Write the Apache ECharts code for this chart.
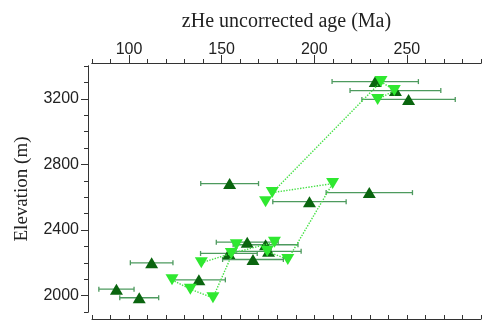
<!DOCTYPE html>
<html>
<head>
<meta charset="utf-8">
<script src="https://cdn.jsdelivr.net/npm/echarts@6/dist/echarts.min.js"></script>
<style>
  html, body { margin: 0; padding: 0; background: #fff; }
  #chart { width: 487px; height: 322px; }
</style>
</head>
<body>
<div id="chart"></div>
<script>
// sample elevations (m), shared by both age sets
const elevation = [3305, 3250, 3196, 2683, 2628, 2573, 2326, 2310, 2270, 2257, 2220, 2200, 2096, 2039, 1987]
// zHe uncorrected ages (Ma) and 1 sigma errors
const uncorrectedAge = [232.9, 243.8, 250.9, 154.3, 229.7, 197.4, 163.8, 173.7, 175.3, 153.9, 166.9, 112.2, 137.7, 93.2, 105.5]
const ageError = [23.3, 24.5, 25.2, 15.6, 23.3, 19.8, 16.7, 17.5, 17.6, 15.3, 16.4, 11.5, 14.3, 9.5, 10.5]
// second age set (light green, down triangles)
const otherAge = [236.0, 243.2, 234.2, 209.9, 177.3, 173.7, 178.5, 157.9, 174.6, 155.2, 185.7, 139.0, 123.2, 133.1, 145.3]
// which samples the dotted lines join, in order
const linePaths = [
	[11, 9, 6, 8, 10, 3, 4, 0, 1, 2],
	[12, 13, 14, 7]
]
const xTicks = [100, 150, 200, 250]
const yTicks = [2000, 2400, 2800, 3200]

const darkGreen = '#0a650f'
const barGreen = '#4d9a5e'
const lightGreen = '#2fe830'
const axisColor = '#333'

const myChart = echarts.init(document.getElementById('chart'))

const darkData = uncorrectedAge.map((a, i) => [a, elevation[i]])
const errData = uncorrectedAge.map((a, i) => [a, elevation[i], ageError[i]])
const lightData = otherAge.map((a, i) => [a, elevation[i]])

// paths joined into one line series, broken by nulls
const lineData = []
linePaths.forEach((path, k) => {
	if (k > 0) lineData.push(null)
	path.forEach((i) => lineData.push([otherAge[i], elevation[i]]))
})

const axisLine = { show: true, lineStyle: { color: axisColor, width: 1 } }

myChart.setOption({
	animation: false,
	grid: { left: 92, right: 6, top: 66, bottom: 10 },
	xAxis: [
		{
			type: 'value', position: 'top', min: 80, max: 290, interval: 10, offset: 3,
			name: 'zHe uncorrected age (Ma)', nameLocation: 'middle', nameGap: 31,
			nameTextStyle: { fontFamily: 'Liberation Serif', fontSize: 20, color: '#222' },
			axisLine: axisLine,
			axisTick: { show: true, length: 4, lineStyle: { color: axisColor } },
			axisLabel: {
				margin: 5, fontFamily: 'Liberation Sans', fontSize: 16, color: '#222',
				formatter: (v) => (xTicks.includes(v) ? String(v) : '')
			},
			splitLine: { show: false }
		},
		{
			type: 'value', position: 'top', min: 80, max: 290, offset: 3,
			axisLine: axisLine,
			axisTick: { show: true, length: 8, customValues: xTicks, lineStyle: { color: axisColor } },
			axisLabel: { show: false },
			splitLine: { show: false }
		},
		{
			type: 'value', position: 'bottom', min: 80, max: 290, interval: 10, offset: 7,
			axisLine: axisLine,
			axisTick: { show: true, inside: true, length: 4, lineStyle: { color: axisColor } },
			axisLabel: { show: false },
			splitLine: { show: false }
		}
	],
	yAxis: [
		{
			type: 'value', position: 'left', min: 1900, max: 3400, interval: 100, offset: 4,
			name: 'Elevation (m)', nameLocation: 'middle', nameGap: 56,
			nameTextStyle: { fontFamily: 'Liberation Serif', fontSize: 19, color: '#222' },
			axisLine: axisLine,
			axisTick: { show: true, length: 4, lineStyle: { color: axisColor } },
			axisLabel: {
				margin: 9, fontFamily: 'Liberation Sans', fontSize: 16, color: '#222',
				formatter: (v) => (yTicks.includes(v) ? String(v) : '')
			},
			splitLine: { show: false }
		},
		{
			type: 'value', position: 'left', min: 1900, max: 3400, offset: 4,
			axisLine: axisLine,
			axisTick: { show: true, length: 7, customValues: yTicks, lineStyle: { color: axisColor } },
			axisLabel: { show: false },
			splitLine: { show: false }
		}
	],
	series: [
		{
			type: 'custom',
			name: 'error',
			data: errData,
			encode: { x: 0, y: 1 },
			z: 2,
			renderItem: function (params, api) {
				const x = api.value(0)
				const y = api.value(1)
				const e = api.value(2)
				const p0 = api.coord([x - e, y])
				const p1 = api.coord([x + e, y])
				const h = 2.5
				const style = { stroke: barGreen, lineWidth: 1.3 }
				return {
					type: 'group',
					children: [
						{ type: 'line', shape: { x1: p0[0], y1: p0[1], x2: p1[0], y2: p1[1] }, style: style },
						{ type: 'line', shape: { x1: p0[0], y1: p0[1] - h, x2: p0[0], y2: p0[1] + h }, style: style },
						{ type: 'line', shape: { x1: p1[0], y1: p1[1] - h, x2: p1[0], y2: p1[1] + h }, style: style }
					]
				}
			}
		},
		{
			type: 'scatter',
			name: 'uncorrected',
			data: darkData,
			symbol: 'triangle',
			symbolSize: [13, 11],
			itemStyle: { color: darkGreen, opacity: 1 },
			z: 3
		},
		{
			type: 'line',
			name: 'path',
			data: lineData,
			connectNulls: false,
			showSymbol: false,
			symbol: 'none',
			lineStyle: { color: '#45e045', width: 1.4, type: 'dotted' },
			z: 4
		},
		{
			type: 'scatter',
			name: 'other',
			data: lightData,
			symbol: 'triangle',
			symbolRotate: 180,
			symbolSize: [13, 11],
			itemStyle: { color: lightGreen, opacity: 1 },
			z: 5
		}
	]
})
</script>
</body>
</html>
